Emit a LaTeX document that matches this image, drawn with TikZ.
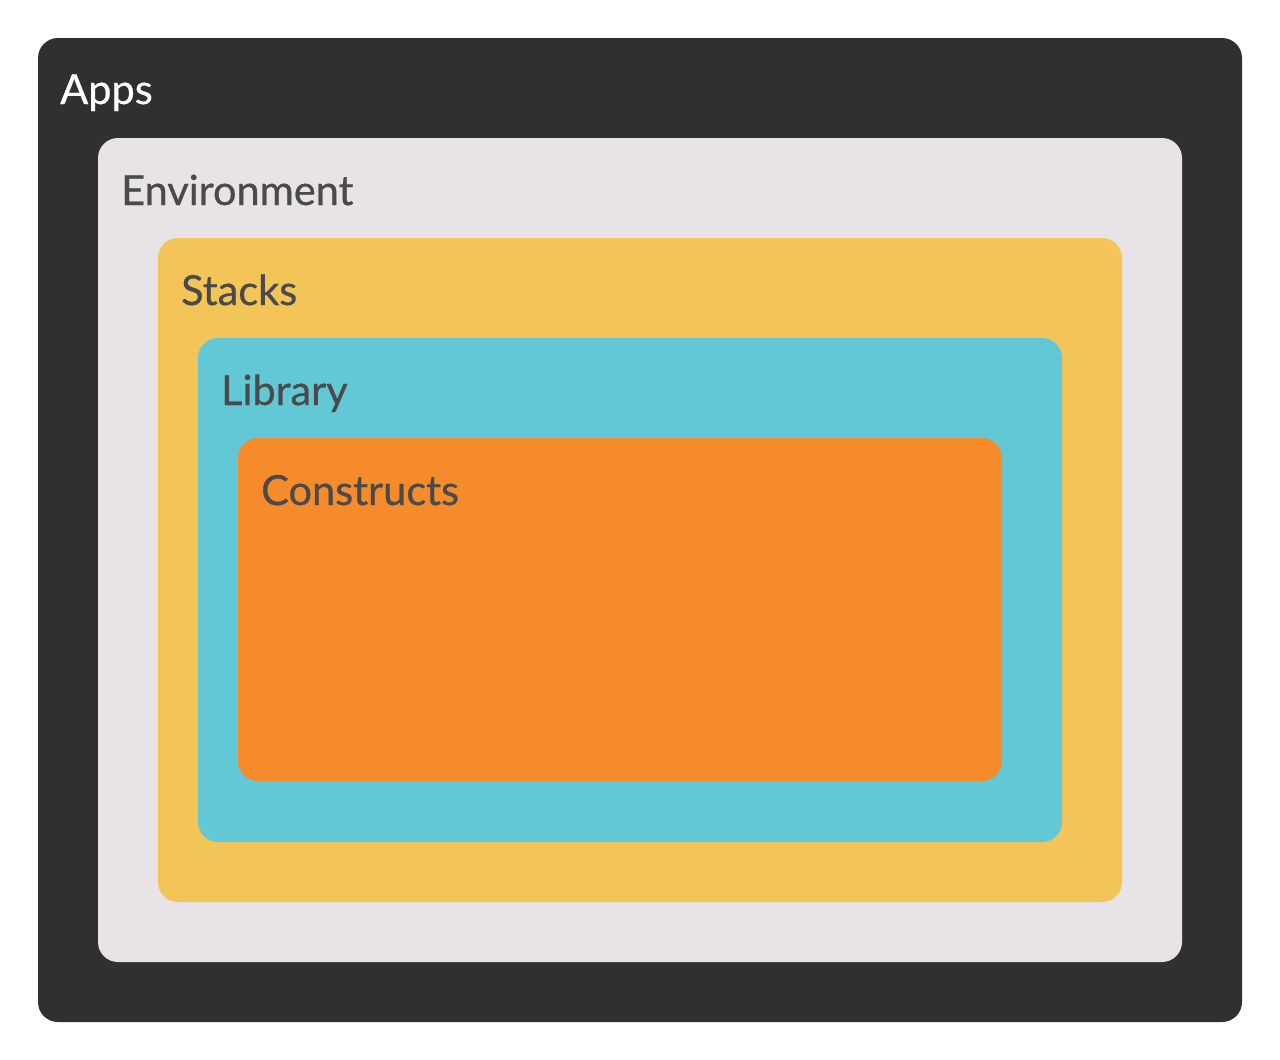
\documentclass[tikz,border=0pt]{standalone}
\usepackage{fontspec}
\setmainfont{Lato}
\newfontfamily\layerfont[FakeBold=0.6]{Lato}
\usetikzlibrary{positioning}
\definecolor{appsgray}{HTML}{303030}
\definecolor{envgray}{HTML}{E8E3E7}
\definecolor{stackyellow}{HTML}{F3C457}
\definecolor{libcyan}{HTML}{63C8D5}
\definecolor{conorange}{HTML}{F58B2A}
\definecolor{textgray}{HTML}{4A4A4A}
\tikzstyle{layer}=[rectangle, rounded corners=20pt, inner sep=0pt, outer sep=0pt]
\tikzstyle{tlabel}=[anchor=base west, inner sep=0pt, text=textgray,
 font=\layerfont\fontsize{41.5}{48}\selectfont]

\begin{document}
\begin{tikzpicture}
\useasboundingbox[fill=white] (0,0) rectangle (1280pt,-1060pt);

\node (apps) [layer, fill=appsgray, anchor=north west, minimum width=1204pt,
 minimum height=984pt] at (38pt,-38pt) {};
\node (env) [layer, fill=envgray, minimum width=1084pt, minimum height=824pt,
 below right=100pt and 60pt of apps.north west] {};
\node (stacks) [layer, fill=stackyellow, minimum width=964pt, minimum height=664pt,
 below right=100pt and 60pt of env.north west] {};
\node (lib) [layer, fill=libcyan, minimum width=864pt, minimum height=504pt,
 below right=100pt and 40pt of stacks.north west] {};
\node (constructs) [layer, fill=conorange, minimum width=764pt, minimum height=343pt,
 below right=100pt and 40pt of lib.north west] {};

% layer titles
\node (appsT) [tlabel, text=white] at ([shift={(22pt,-66pt)}]apps.north west) {Apps};
\node (envT) [tlabel] at ([shift={(23pt,-67pt)}]env.north west) {Environment};
\node (stacksT) [tlabel] at ([shift={(23pt,-67pt)}]stacks.north west) {Stacks};
\node (libT) [tlabel] at ([shift={(23pt,-67pt)}]lib.north west) {Library};
\node (constructsT) [tlabel] at ([shift={(23pt,-67pt)}]constructs.north west) {Constructs};

\end{tikzpicture}
\end{document}
